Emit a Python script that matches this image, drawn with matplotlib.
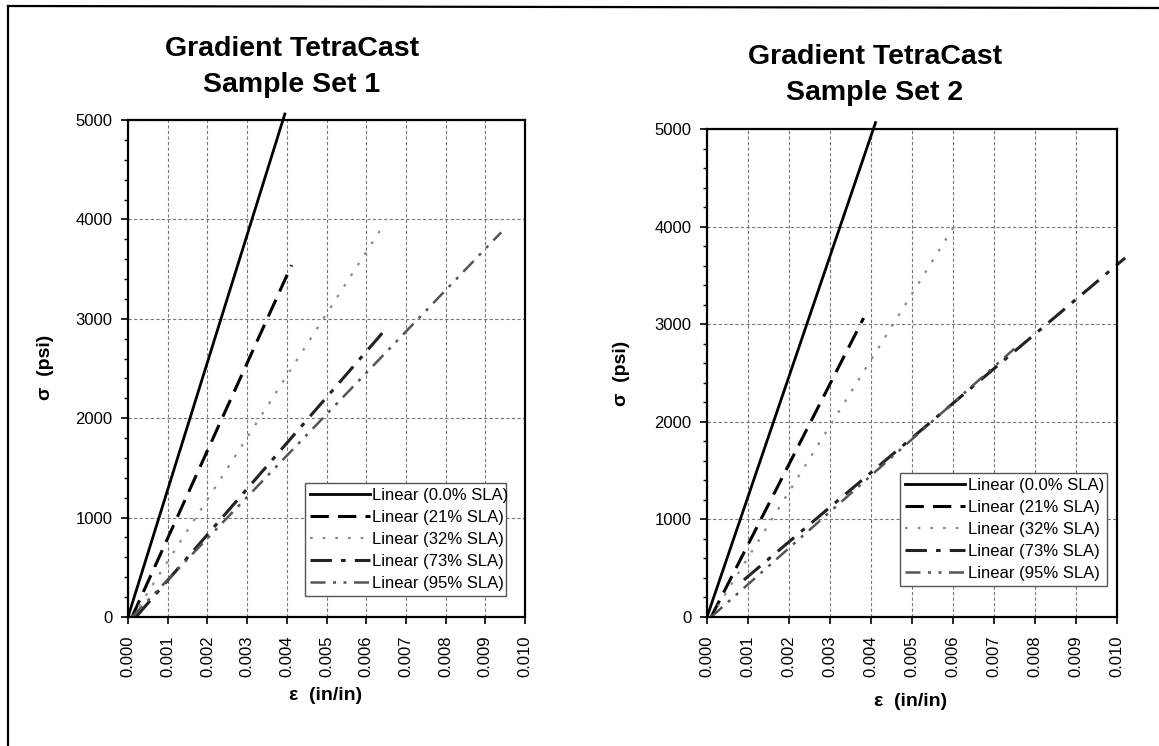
import matplotlib
matplotlib.use("Agg")
import matplotlib.pyplot as plt
from matplotlib.lines import Line2D

# DATA (trendline end points)

labels = ['Linear (0.0% SLA)', 'Linear (21% SLA)', 'Linear (32% SLA)',
          'Linear (73% SLA)', 'Linear (95% SLA)']

set1_strain = [[0.0, 0.00395], [0.0001, 0.00412], [0.0001, 0.00635],
               [0.0002, 0.0065], [0.0001, 0.0094]]
set1_stress = [[0, 5060], [0, 3540], [0, 3890], [0, 2900], [0, 3870]]

set2_strain = [[0.0, 0.00411], [0.0001, 0.00382], [0.0001, 0.00602],
               [0.0009, 0.0102], [0.0001, 0.0075]]
set2_stress = [[0, 5065], [0, 3063], [0, 4000], [380, 3680], [0, 2750]]

x_ticks = [0.000, 0.001, 0.002, 0.003, 0.004, 0.005, 0.006, 0.007, 0.008, 0.009, 0.010]
y_ticks = [0, 1000, 2000, 3000, 4000, 5000]

titles = ['Gradient TetraCast\nSample Set 1', 'Gradient TetraCast\nSample Set 2']

# STYLES

styles = [
    dict(color='black', lw=2.0, ls='-'),
    dict(color='black', lw=2.2, dashes=(6, 3)),
    dict(color='#8a8a8a', lw=1.6, dashes=(1.2, 4.5)),
    dict(color='#222222', lw=2.2, dashes=(7, 3, 1.5, 3)),
    dict(color='#555555', lw=1.8, dashes=(6, 3, 1.2, 3, 1.2, 3)),
]

plt.rcParams['font.family'] = ['Liberation Sans', 'DejaVu Sans']

W, H = 1159, 746
fig = plt.figure(figsize=(W / 100, H / 100), dpi=100)
fig.patch.set_facecolor('white')

# outer frame (left and top edges visible in the scan)
fig.add_artist(Line2D([8 / W, 8 / W], [0, 1 - 6 / H], transform=fig.transFigure,
                      color='black', lw=1.6))
fig.add_artist(Line2D([8 / W, 1], [1 - 6 / H, 1 - 8 / H], transform=fig.transFigure,
                      color='black', lw=1.6))


def px_axes(x0, y0, x1, y1):
    return fig.add_axes([x0 / W, 1 - y1 / H, (x1 - x0) / W, (y1 - y0) / H])


ax1 = px_axes(128, 120, 525, 617)
ax2 = px_axes(707, 129, 1117, 617)

panels = [
    (ax1, set1_strain, set1_stress, (292, 67), (46, 367), (326, 696), (305, 483, 506, 598)),
    (ax2, set2_strain, set2_stress, (875, 75), (621, 373), (911, 701), (900, 473, 1107, 597)),
]

for i, (ax, sx, sy, tpos, ylpos, xlpos, lbox) in enumerate(panels):
    ax.set_xlim(0, 0.010)
    ax.set_ylim(0, 5000)
    ax.set_xticks(x_ticks)
    ax.set_xticklabels(['%.3f' % v for v in x_ticks], rotation=90, fontsize=12)
    ax.set_yticks(y_ticks)
    ax.set_yticklabels([str(v) for v in y_ticks], fontsize=12)
    ax.set_yticks(range(0, 5001, 200), minor=True)
    ax.tick_params(axis='both', which='major', direction='out', length=5, width=1.2, pad=6)
    ax.tick_params(axis='y', which='minor', direction='out', length=3, width=1.0)
    ax.tick_params(axis='x', which='major', pad=8)
    ax.grid(True, which='major', color='#777777', lw=0.8, ls=(0, (3, 2)))
    ax.set_axisbelow(True)
    for sp in ax.spines.values():
        sp.set_linewidth(1.6)
        sp.set_color('black')

    handles = []
    for j in range(len(labels)):
        ln, = ax.plot(sx[j], sy[j], label=labels[j], clip_on=False, **styles[j])
        handles.append(ln)

    lx0, ly0, lx1, ly1 = lbox
    leg = ax.legend(handles=handles, loc='upper left',
                    bbox_to_anchor=(lx0 / W, 1 - ly1 / H, (lx1 - lx0) / W, (ly1 - ly0) / H),
                    bbox_transform=fig.transFigure, mode='expand',
                    fontsize=12, handlelength=3.6, handletextpad=0.15,
                    labelspacing=0.42, borderpad=0.3, borderaxespad=0,
                    fancybox=False, framealpha=1, edgecolor='#555555')
    leg.get_frame().set_linewidth(1.0)

    fig.text(tpos[0] / W, 1 - tpos[1] / H, titles[i], ha='center', va='center',
             fontsize=20.5, fontweight='bold', linespacing=1.46)
    fig.text(ylpos[0] / W, 1 - ylpos[1] / H, '\u03c3  (psi)', rotation=90,
             ha='center', va='center', fontsize=14, fontweight='bold')
    fig.text(xlpos[0] / W, 1 - xlpos[1] / H, '\u03b5  (in/in)', ha='center',
             va='center', fontsize=14, fontweight='bold')

fig.savefig('out.png', dpi=100)
